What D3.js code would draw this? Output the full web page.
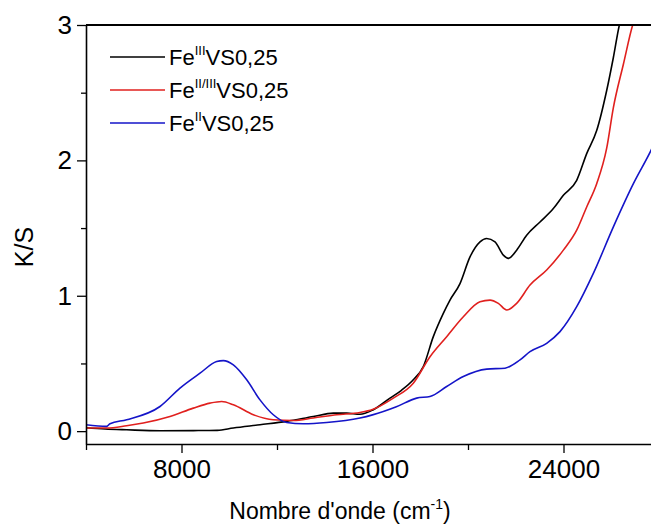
<!DOCTYPE html>
<html>

<head>
    <style>
        body { margin: 0; background: #fff; }
        svg { font-family: Arial, "Liberation Sans", sans-serif; }
    </style>
</head>

<body>
    <script src="https://d3js.org/d3.v7.min.js"></script>
    <div id="chart"></div>
    <script>
        const width = 651
        const height = 529
        const plot = { left: 86, right: 659, top: 25, bottom: 444 }

        // series: wavenumber (cm-1) and K/S
        const feIIIx = [4000, 4800, 5700, 7100, 8500, 9500, 10171, 11288, 12404, 13521, 14360, 14919, 15476, 16000, 16733, 17200, 17709, 18128, 18547, 18966, 19246, 19665, 20084, 20503, 20782, 21131, 21480, 21689, 22038, 22457, 23016, 23575, 23994, 24553, 24971, 25390, 25809, 26089, 26340, 26500]
        const feIIIy = [0.025, 0.016, 0.010, 0.003, 0.004, 0.006, 0.023, 0.047, 0.072, 0.108, 0.133, 0.133, 0.125, 0.155, 0.244, 0.300, 0.379, 0.477, 0.698, 0.870, 0.968, 1.090, 1.287, 1.398, 1.423, 1.398, 1.300, 1.276, 1.337, 1.447, 1.545, 1.644, 1.742, 1.853, 2.050, 2.220, 2.516, 2.760, 3.000, 3.100]

        const feIIIIIx = [4000, 4866, 5700, 6400, 7518, 8494, 9194, 9683, 10171, 11009, 11845, 12683, 13521, 14500, 15476, 16000, 16872, 17709, 18408, 19107, 19805, 20503, 20922, 21271, 21620, 22038, 22597, 23295, 23994, 24553, 24971, 25390, 25809, 26089, 26508, 26898, 27100]
        const feIIIIIy = [0.023, 0.023, 0.040, 0.060, 0.108, 0.170, 0.207, 0.219, 0.195, 0.121, 0.084, 0.079, 0.097, 0.121, 0.138, 0.160, 0.244, 0.354, 0.550, 0.698, 0.845, 0.956, 0.968, 0.944, 0.895, 0.944, 1.079, 1.190, 1.337, 1.484, 1.656, 1.828, 2.090, 2.390, 2.710, 3.000, 3.100]

        const feIIx = [4000, 4866, 5005, 5703, 7099, 7937, 8775, 9473, 9752, 10171, 10731, 11288, 11845, 12404, 13102, 14080, 15476, 16000, 17000, 17850, 18408, 19107, 19805, 20782, 21550, 22178, 22597, 23295, 23854, 24553, 25250, 26089, 26927, 27665, 28000]
        const feIIy = [0.047, 0.035, 0.055, 0.084, 0.182, 0.318, 0.428, 0.514, 0.521, 0.489, 0.379, 0.231, 0.121, 0.064, 0.055, 0.064, 0.097, 0.120, 0.180, 0.244, 0.256, 0.330, 0.403, 0.458, 0.465, 0.526, 0.587, 0.649, 0.735, 0.919, 1.165, 1.509, 1.828, 2.074, 2.200]

        const seriesNames = ["III", "II/III", "II"]
        const seriesColors = ["#000000", "#e0201e", "#1414c8"]

        const xTicks = [8000, 16000, 24000]
        const xMinorTicks = [4000, 12000, 20000]
        const yTicks = [0, 1, 2, 3]
        const yMinorTicks = [0.5, 1.5, 2.5]

        const series = [
            { name: seriesNames[0], color: seriesColors[0], pts: d3.zip(feIIIx, feIIIy) },
            { name: seriesNames[1], color: seriesColors[1], pts: d3.zip(feIIIIIx, feIIIIIy) },
            { name: seriesNames[2], color: seriesColors[2], pts: d3.zip(feIIx, feIIy) }
        ]

        const xScale = d3.scaleLinear()
            .domain([4000, 28000])
            .range([plot.left, plot.right])

        const yScale = d3.scaleLinear()
            .domain([-0.095, 3])
            .range([plot.bottom, plot.top])

        const svg = d3.select("#chart").append("svg")
            .attr("width", width)
            .attr("height", height)

        svg.append("clipPath").attr("id", "clip")
            .append("rect")
            .attr("x", plot.left)
            .attr("y", plot.top)
            .attr("width", plot.right - plot.left)
            .attr("height", plot.bottom - plot.top)

        const line = d3.line()
            .x(d => xScale(d[0]))
            .y(d => yScale(d[1]))
            .curve(d3.curveMonotoneX)

        svg.append("g")
            .attr("clip-path", "url(#clip)")
            .selectAll("path")
            .data(series)
            .enter()
            .append("path")
            .attr("d", d => line(d.pts))
            .attr("fill", "none")
            .attr("stroke", d => d.color)
            .attr("stroke-width", 1.6)

        // axes
        const xAxis = svg.append("g")
            .attr("transform", "translate(0," + plot.bottom + ")")
            .call(d3.axisBottom(xScale).tickValues(xTicks).tickFormat(d3.format("d")).tickSize(9).tickPadding(7).tickSizeOuter(0))
        xAxis.append("g")
            .call(d3.axisBottom(xScale).tickValues(xMinorTicks).tickSize(6).tickFormat(""))
            .select(".domain").remove()

        const yAxis = svg.append("g")
            .attr("transform", "translate(" + plot.left + ",0)")
            .call(d3.axisLeft(yScale).tickValues(yTicks).tickFormat(d3.format("d")).tickSize(9).tickPadding(5).tickSizeOuter(0))
        yAxis.append("g")
            .call(d3.axisLeft(yScale).tickValues(yMinorTicks).tickSize(5).tickFormat(""))
            .select(".domain").remove()

        svg.selectAll(".domain").attr("stroke", "#000").attr("stroke-width", 1.6)
        svg.selectAll(".tick line").attr("stroke", "#000").attr("stroke-width", 1.3)
        svg.selectAll(".tick text").attr("fill", "#000").attr("font-size", 26).attr("font-family", "Arial, 'Liberation Sans', sans-serif")

        // top frame
        svg.append("line")
            .attr("x1", plot.left).attr("x2", plot.right)
            .attr("y1", plot.top).attr("y2", plot.top)
            .attr("stroke", "#000").attr("stroke-width", 2)

        // axis titles
        const xTitle = svg.append("text")
            .attr("x", 340)
            .attr("y", 519)
            .attr("text-anchor", "middle")
            .attr("font-size", 23)
        xTitle.append("tspan").text("Nombre d'onde (cm")
        xTitle.append("tspan").attr("font-size", 14).attr("dy", -10).text("-1")
        xTitle.append("tspan").attr("dy", 10).text(")")

        svg.append("text")
            .attr("transform", "translate(33,247) rotate(-90)")
            .attr("text-anchor", "middle")
            .attr("font-size", 25)
            .text("K/S")

        // legend
        const legend = svg.append("g").attr("id", "legend")
        const entry = legend.selectAll("g")
            .data(series)
            .enter()
            .append("g")
            .attr("transform", (d, i) => "translate(110," + (57 + i * 33) + ")")
        entry.append("line")
            .attr("x1", 0).attr("x2", 55)
            .attr("stroke", d => d.color)
            .attr("stroke-width", 1.6)
        const label = entry.append("text")
            .attr("x", 59)
            .attr("y", 8)
            .attr("font-size", 22)
        label.append("tspan").text("Fe")
        label.append("tspan").attr("font-size", 13).attr("dy", -10).text(d => d.name)
        label.append("tspan").attr("dy", 10).text("VS0,25")
    </script>
</body>

</html>
